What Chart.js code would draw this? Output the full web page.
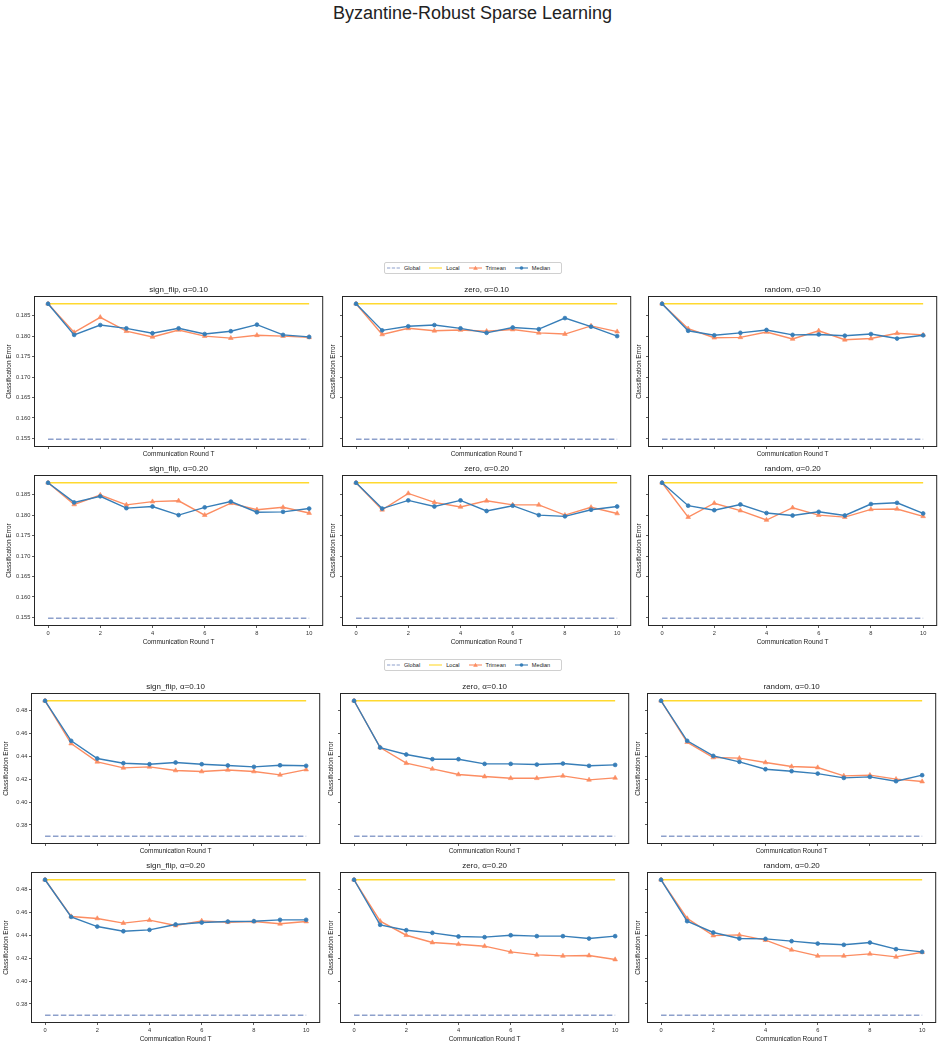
<!DOCTYPE html>
<html>
<head>
<meta charset="utf-8">
<script src="https://cdn.jsdelivr.net/npm/chart.js@4.4.1/dist/chart.umd.min.js"></script>
<style>
  body { margin: 0; background: #fff; width: 945px; height: 1048px; position: relative; overflow: hidden;
         font-family: "Liberation Sans", Arial, Helvetica, sans-serif; }
  canvas { position: absolute; }
  #title { position: absolute; top: 3px; left: 0; width: 945px; text-align: center; font-size: 18px; color: #222; }
  .legend { position: absolute; left: 384px; width: 174px; height: 10px; border: 0.6px solid #d0d0d0; border-radius: 2px;
            display: flex; align-items: center; padding-left: 2px; font-size: 5.6px; color: #222; }
  .legend .item { display: flex; align-items: center; margin-right: 9px; }
  .legend svg { margin-right: 4px; }
</style>
</head>
<body>
<div id="title">Byzantine-Robust Sparse Learning</div>
<script>
const FONT = '"Liberation Sans", Arial, Helvetica, sans-serif';

const rounds = [0, 1, 2, 3, 4, 5, 6, 7, 8, 9, 10];
const xTicks = [0, 2, 4, 6, 8, 10];
const attacks = ['sign_flip', 'zero', 'random'];
const alphas = ['0.10', '0.20'];
const seriesNames = ['Global', 'Local', 'Trimean', 'Median'];
const seriesColors = ['#8da0cb', '#ffd92f', '#fc8d62', '#377eb8'];

// upper block
const upperYTicks = [0.155, 0.160, 0.165, 0.170, 0.175, 0.180, 0.185];
const upperGlobal = 0.1548;
const upperLocal = 0.1879;
const upperSignFlip10Trimean = [0.1879, 0.1809, 0.1846, 0.1812, 0.1798, 0.1815, 0.1800, 0.1795, 0.1802, 0.1800, 0.1797];
const upperSignFlip10Median  = [0.1879, 0.1803, 0.1827, 0.1819, 0.1807, 0.1819, 0.1805, 0.1812, 0.1828, 0.1803, 0.1798];
const upperZero10Trimean     = [0.1879, 0.1804, 0.1819, 0.1813, 0.1815, 0.1812, 0.1816, 0.1808, 0.1805, 0.1825, 0.1811];
const upperZero10Median      = [0.1879, 0.1814, 0.1824, 0.1827, 0.1819, 0.1808, 0.1821, 0.1817, 0.1844, 0.1823, 0.1800];
const upperRandom10Trimean   = [0.1879, 0.1818, 0.1796, 0.1797, 0.1810, 0.1793, 0.1813, 0.1791, 0.1794, 0.1807, 0.1803];
const upperRandom10Median    = [0.1879, 0.1813, 0.1802, 0.1808, 0.1815, 0.1803, 0.1804, 0.1801, 0.1805, 0.1794, 0.1802];
const upperSignFlip20Trimean = [0.1879, 0.1826, 0.1849, 0.1825, 0.1833, 0.1835, 0.1800, 0.1829, 0.1813, 0.1819, 0.1805];
const upperSignFlip20Median  = [0.1879, 0.1831, 0.1846, 0.1817, 0.1821, 0.1800, 0.1819, 0.1833, 0.1807, 0.1808, 0.1816];
const upperZero20Trimean     = [0.1879, 0.1813, 0.1853, 0.1831, 0.1820, 0.1835, 0.1825, 0.1825, 0.1800, 0.1819, 0.1804];
const upperZero20Median      = [0.1879, 0.1816, 0.1836, 0.1821, 0.1836, 0.1810, 0.1823, 0.1800, 0.1797, 0.1813, 0.1821];
const upperRandom20Trimean   = [0.1879, 0.1795, 0.1829, 0.1811, 0.1788, 0.1818, 0.1800, 0.1795, 0.1814, 0.1815, 0.1797];
const upperRandom20Median    = [0.1879, 0.1823, 0.1812, 0.1826, 0.1805, 0.1799, 0.1808, 0.1799, 0.1827, 0.1830, 0.1804];

// lower block
const lowerYTicks = [0.38, 0.40, 0.42, 0.44, 0.46, 0.48];
const lowerGlobal = 0.3701;
const lowerLocal = 0.4888;
const lowerSignFlip10Trimean = [0.4888, 0.4513, 0.4353, 0.4300, 0.4309, 0.4277, 0.4268, 0.4282, 0.4268, 0.4239, 0.4285];
const lowerSignFlip10Median  = [0.4888, 0.4537, 0.4382, 0.4341, 0.4332, 0.4347, 0.4332, 0.4321, 0.4309, 0.4323, 0.4318];
const lowerZero10Trimean     = [0.4888, 0.4478, 0.4341, 0.4291, 0.4242, 0.4224, 0.4209, 0.4209, 0.4230, 0.4195, 0.4212];
const lowerZero10Median      = [0.4888, 0.4478, 0.4417, 0.4376, 0.4376, 0.4335, 0.4335, 0.4329, 0.4338, 0.4318, 0.4326];
const lowerRandom10Trimean   = [0.4888, 0.4525, 0.4391, 0.4385, 0.4347, 0.4312, 0.4303, 0.4230, 0.4236, 0.4201, 0.4180];
const lowerRandom10Median    = [0.4888, 0.4537, 0.4405, 0.4353, 0.4288, 0.4271, 0.4250, 0.4212, 0.4221, 0.4183, 0.4236];
const lowerSignFlip20Trimean = [0.4888, 0.4566, 0.4549, 0.4508, 0.4534, 0.4487, 0.4528, 0.4516, 0.4522, 0.4502, 0.4522];
const lowerSignFlip20Median  = [0.4888, 0.4563, 0.4478, 0.4437, 0.4449, 0.4496, 0.4513, 0.4522, 0.4525, 0.4537, 0.4537];
const lowerZero20Trimean     = [0.4888, 0.4525, 0.4402, 0.4338, 0.4323, 0.4306, 0.4256, 0.4230, 0.4221, 0.4224, 0.4189];
const lowerZero20Median      = [0.4888, 0.4493, 0.4446, 0.4423, 0.4391, 0.4385, 0.4402, 0.4394, 0.4394, 0.4373, 0.4394];
const lowerRandom20Trimean   = [0.4888, 0.4549, 0.4399, 0.4405, 0.4359, 0.4274, 0.4221, 0.4221, 0.4239, 0.4212, 0.4253];
const lowerRandom20Median    = [0.4888, 0.4525, 0.4426, 0.4373, 0.4370, 0.4350, 0.4329, 0.4318, 0.4338, 0.4280, 0.4256];

const blocks = [
  {
    yTicks: upperYTicks, digits: 3, global: upperGlobal, local: upperLocal,
    trimean: [[upperSignFlip10Trimean, upperZero10Trimean, upperRandom10Trimean],
              [upperSignFlip20Trimean, upperZero20Trimean, upperRandom20Trimean]],
    median:  [[upperSignFlip10Median, upperZero10Median, upperRandom10Median],
              [upperSignFlip20Median, upperZero20Median, upperRandom20Median]]
  },
  {
    yTicks: lowerYTicks, digits: 2, global: lowerGlobal, local: lowerLocal,
    trimean: [[lowerSignFlip10Trimean, lowerZero10Trimean, lowerRandom10Trimean],
              [lowerSignFlip20Trimean, lowerZero20Trimean, lowerRandom20Trimean]],
    median:  [[lowerSignFlip10Median, lowerZero10Median, lowerRandom10Median],
              [lowerSignFlip20Median, lowerZero20Median, lowerRandom20Median]]
  }
];

// page layout (pixels)
const BOX_W = 289, BOX_H = 149, TITLE_H = 14;
const blockCols = [[35, 343, 649], [32, 341, 648]];
const blockRows = [[297, 476], [694, 873]];
const legendTops = [262, 659];

const frame = {
  id: 'frame',
  afterDraw(chart, args, opts) {
    const { ctx, chartArea: a } = chart;
    ctx.save();
    ctx.strokeStyle = '#262626';
    ctx.lineWidth = 1;
    ctx.strokeRect(a.left - 0.5, a.top - 0.5, a.right - a.left + 1, a.bottom - a.top + 1);
    ctx.fillStyle = '#222';
    ctx.font = '8px ' + FONT;
    ctx.textAlign = 'center';
    ctx.textBaseline = 'middle';
    ctx.fillText(opts.text, (a.left + a.right) / 2, a.top - 7);
    ctx.restore();
  }
};

const pts = arr => arr.map((v, i) => ({ x: rounds[i], y: v }));

function addPanel(b, r, c) {
  const block = blocks[b];
  const yW = c === 0 ? 30 : 14;
  const xH = r === 1 ? 21 : 12;
  const cv = document.createElement('canvas');
  cv.width = yW + BOX_W + 3;
  cv.height = TITLE_H + BOX_H + xH;
  cv.style.left = (blockCols[b][c] - yW) + 'px';
  cv.style.top = (blockRows[b][r] - TITLE_H) + 'px';
  document.body.appendChild(cv);

  const all = [block.global, block.local].concat(block.trimean.flat(2), block.median.flat(2));
  const lo = Math.min(...all), hi = Math.max(...all), pad = (hi - lo) * 0.05;

  new Chart(cv, {
    type: 'line',
    data: {
      datasets: [
        { label: 'Median', data: pts(block.median[r][c]), borderColor: seriesColors[3], backgroundColor: seriesColors[3],
          borderWidth: 1.4, pointStyle: 'circle', pointRadius: 1.9, pointBorderWidth: 0.8, order: 0 },
        { label: 'Trimean', data: pts(block.trimean[r][c]), borderColor: seriesColors[2], backgroundColor: seriesColors[2],
          borderWidth: 1.4, pointStyle: 'triangle', pointRadius: 2.7, pointBorderWidth: 0.6, order: 1 },
        { label: 'Local', data: pts(rounds.map(() => block.local)), borderColor: seriesColors[1],
          borderWidth: 1.4, pointRadius: 0, order: 2 },
        { label: 'Global', data: pts(rounds.map(() => block.global)), borderColor: seriesColors[0],
          borderWidth: 1.4, borderDash: [5.5, 2.4], pointRadius: 0, order: 3 }
      ]
    },
    options: {
      responsive: false,
      animation: false,
      events: [],
      layout: { padding: { left: 0, right: 3, top: TITLE_H, bottom: 0 } },
      plugins: {
        legend: { display: false },
        tooltip: { enabled: false },
        frame: { text: attacks[c] + ', \u03b1=' + alphas[r] }
      },
      scales: {
        x: {
          type: 'linear', min: -0.5, max: 10.5,
          afterBuildTicks: s => { s.ticks = xTicks.map(v => ({ value: v })); },
          afterFit: s => { s.height = xH; s.paddingLeft = 0; s.paddingRight = 0; },
          grid: { drawOnChartArea: false, drawTicks: true, tickLength: 3, color: '#333', lineWidth: 0.8 },
          border: { display: false },
          ticks: { display: r === 1, maxRotation: 0, autoSkip: false, padding: 2, color: '#333',
                   font: { family: FONT, size: 5.7 } },
          title: { display: true, text: 'Communication Round T', color: '#222', padding: 0,
                   font: { family: FONT, size: 6.5, lineHeight: 1.2 } }
        },
        y: {
          min: lo - pad, max: hi + pad,
          afterBuildTicks: s => { s.ticks = block.yTicks.map(v => ({ value: v })); },
          afterFit: s => { s.width = yW; s.paddingTop = 0; s.paddingBottom = 0; },
          grid: { drawOnChartArea: false, drawTicks: true, tickLength: 3, color: '#333', lineWidth: 0.8 },
          border: { display: false },
          ticks: { display: c === 0, padding: 1.7, color: '#333', font: { family: FONT, size: 5.7 },
                   callback: v => v.toFixed(block.digits) },
          title: { display: true, text: 'Classification Error', color: '#222', padding: 0,
                   font: { family: FONT, size: 6.5, lineHeight: 1.2 } }
        }
      }
    },
    plugins: [frame]
  });
}

function handle(i) {
  const col = seriesColors[i];
  let s = '<svg width="13" height="6" viewBox="0 0 13 6">';
  if (seriesNames[i] === 'Global') s += `<line x1="0" y1="3" x2="13" y2="3" stroke="${col}" stroke-width="1.1" stroke-dasharray="3.3 1.5"/>`;
  else s += `<line x1="0" y1="3" x2="13" y2="3" stroke="${col}" stroke-width="1.1"/>`;
  if (seriesNames[i] === 'Trimean') s += `<polygon points="6.5,0.8 8.8,4.8 4.2,4.8" fill="${col}"/>`;
  if (seriesNames[i] === 'Median') s += `<circle cx="6.5" cy="3" r="1.8" fill="${col}"/>`;
  return s + '</svg>';
}

function addLegend(top) {
  const box = document.createElement('div');
  box.className = 'legend';
  box.style.top = top + 'px';
  seriesNames.forEach((name, i) => {
    const item = document.createElement('div');
    item.className = 'item';
    item.innerHTML = handle(i) + '<span>' + name + '</span>';
    box.appendChild(item);
  });
  document.body.appendChild(box);
}

for (let b = 0; b < 2; b++) {
  addLegend(legendTops[b]);
  for (let r = 0; r < 2; r++) {
    for (let c = 0; c < 3; c++) addPanel(b, r, c);
  }
}
</script>
</body>
</html>
